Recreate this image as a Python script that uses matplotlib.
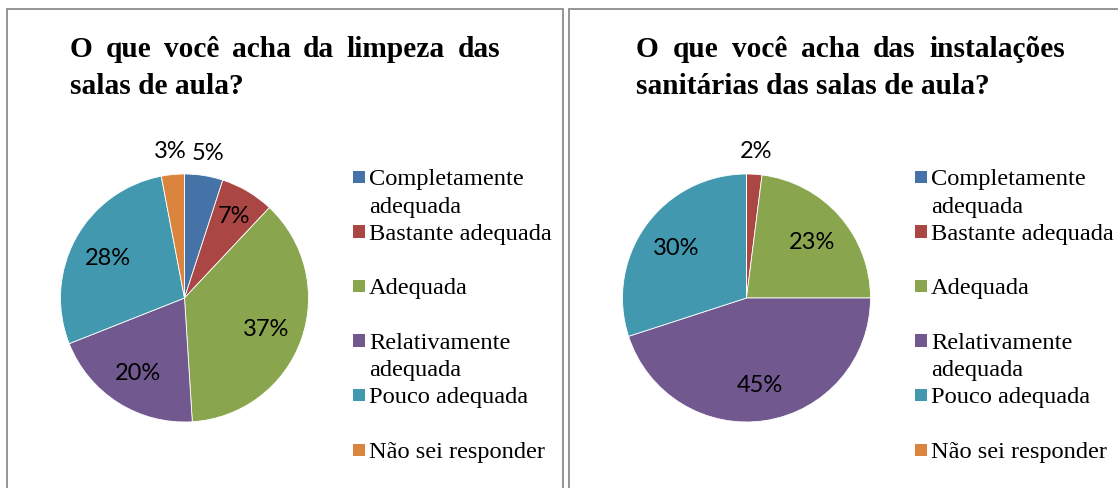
import matplotlib
matplotlib.use("Agg")
import matplotlib.pyplot as plt
from matplotlib.patches import Rectangle
import numpy as np

# ---- data ----
categories = ["Completamente\nadequada", "Bastante adequada", "Adequada",
              "Relativamente\nadequada", "Pouco adequada", "Não sei responder"]
limpeza = [5, 7, 37, 20, 28, 3]
sanitarias = [0, 2, 23, 45, 30, 0]

colors = ["#4572A7", "#AA4643", "#89A54E", "#71588F", "#4198AF", "#DB843D"]

W, H = 1118, 488
fig = plt.figure(figsize=(W / 100, H / 100), dpi=100)
fig.patch.set_facecolor("white")

serif = "Liberation Serif"
sans = "Lato"


def fx(px):
    return px / W


def fy(py):
    return 1 - py / H


def justify(words, x0, x1, y, **kw):
    # place words so the line fills x0..x1 (pixels), like justified text
    renderer = fig.canvas.get_renderer()
    texts = [fig.text(0, fy(y), w, va="baseline", ha="left", **kw) for w in words]
    widths = [t.get_window_extent(renderer).width for t in texts]
    gap = (x1 - x0 - sum(widths)) / (len(words) - 1)
    x = x0
    for t, w in zip(texts, widths):
        t.set_x(fx(x))
        x += w + gap


def panel(left, values, title_lines, title_x0, title_x1):
    # frame
    fig.add_artist(Rectangle((fx(left), fy(H + 20)), fx(556), fy(9) - fy(H + 20),
                             transform=fig.transFigure, fill=False,
                             edgecolor="#8c8c8c", linewidth=1.3))
    # title: first line justified, second line left
    tkw = dict(fontsize=21.2, fontweight="bold", family=serif, color="black")
    justify(title_lines[0].split(), title_x0, title_x1, 57, **tkw)
    fig.text(fx(title_x0), fy(94), title_lines[1], va="baseline", ha="left", **tkw)

    # pie
    cx, cy, r = left + 177.5, 298, 124
    ax = fig.add_axes([fx(cx - r), fy(cy + r), fx(2 * r), (2 * r) / H])
    wedges, _ = ax.pie(values, colors=colors, startangle=90, counterclock=False,
                       wedgeprops=dict(edgecolor="white", linewidth=0.6))
    ax.set_xlim(-1, 1)
    ax.set_ylim(-1, 1)
    ax.set_aspect("equal")
    for w, v in zip(wedges, values):
        if v == 0:
            continue
        ang = np.deg2rad((w.theta1 + w.theta2) / 2)
        d = 1.2 if v < 6 else (0.78 if v < 10 else 0.7)
        ax.text(d * np.cos(ang), d * np.sin(ang), f"{v}%", ha="center",
                va="center_baseline", fontsize=17, family=sans, color="black")

    # legend
    sx = left + 345.5
    for i, (lab, c) in enumerate(zip(categories, colors)):
        base = 185 + 54.6 * i
        fig.add_artist(Rectangle((fx(sx), fy(base - 2)), fx(12.5), 12.5 / H,
                                 transform=fig.transFigure, facecolor=c, edgecolor="none"))
        for k, line in enumerate(lab.split("\n")):
            fig.text(fx(sx + 16.5), fy(base + 27.5 * k), line, va="baseline", ha="left",
                     fontsize=17.6, family=serif, color="black")


panel(7, limpeza, ["O que você acha da limpeza das", "salas de aula?"], 70, 500)
panel(569, sanitarias, ["O que você acha das instalações",
                        "sanitárias das salas de aula?"], 636, 1065)

fig.savefig("out.png", dpi=100, facecolor="white")
